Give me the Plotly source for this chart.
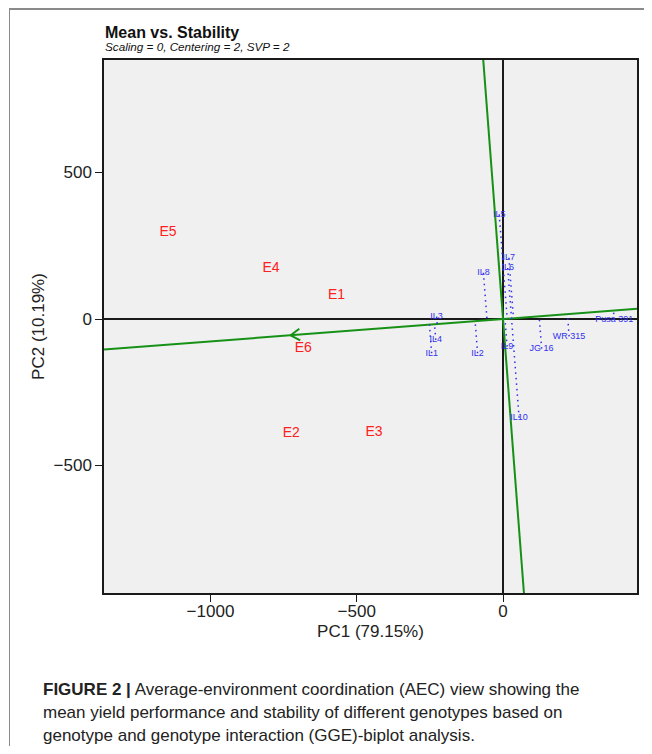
import math
import plotly.graph_objects as go

# ---------------- data ----------------
env_names = ["E1", "E2", "E3", "E4", "E5", "E6"]
env_pc1 = [-569, -724, -441, -793, -1145, -683]
env_pc2 = [82, -392, -386, 171, 294, -102]

gen_names = ["IL1", "IL2", "IL3", "IL4", "IL5", "IL6", "IL7", "IL8", "IL9", "IL10",
             "JG 16", "WR 315", "Pusa 391"]
gen_pc1 = [-244, -87, -227, -230, -13, 16, 20, -67, 14, 55, 132, 226, 380]
gen_pc2 = [-117, -117, 8, -71, 357, 174, 209, 158, -94, -337, -101, -59, -2]

x_ticks = [-1000, -500, 0]
y_ticks = [-500, 0, 500]
x_range = [-1364, 458]
y_range = [-935, 884]

title = "Mean vs. Stability"
subtitle = "Scaling = 0, Centering = 2, SVP = 2"
x_title = "PC1 (79.15%)"
y_title = "PC2 (10.19%)"
caption_lines = [
    "<b>FIGURE 2 |</b> Average-environment coordination (AEC) view showing the",
    "mean yield performance and stability of different genotypes based on",
    "genotype and genotype interaction (GGE)-biplot analysis.",
]

# ---------------- geometry ----------------
# page body has an 8px margin, so the figure is drawn from (8, 8) of the window
OFF = 8
W, H = 652 - 2 * OFF, 754 - 2 * OFF
L, R, T, B = 104 - OFF, 652 - OFF - 637, 60 - OFF, H - (593 - OFF)
PW, PH = W - L - R, H - T - B


def px_x(p):
    """window pixel x -> paper coordinate"""
    return (p - OFF - L) / PW


def px_y(p):
    """window pixel y -> paper coordinate"""
    return (H - B - (p - OFF)) / PH


GREEN = "#169116"
BLUE = "#3030ee"
RED = "#ff2020"
FONT = "Liberation Sans, Arial, sans-serif"

mx = sum(env_pc1) / len(env_pc1)
my = sum(env_pc2) / len(env_pc2)
mlen = math.hypot(mx, my)
ux, uy = mx / mlen, my / mlen

fig = go.Figure()

# AEC abscissa (through origin and average environment)
s_ab = my / mx
xs_ab = [x_range[0] - 50, x_range[1] + 50]
fig.add_trace(go.Scatter(x=xs_ab, y=[s_ab * v for v in xs_ab], mode="lines",
                         line=dict(color=GREEN, width=2), hoverinfo="skip", showlegend=False))
# AEC ordinate (perpendicular)
s_or = -mx / my
ys_or = [y_range[0] - 50, y_range[1] + 50]
fig.add_trace(go.Scatter(x=[v / s_or for v in ys_or], y=ys_or, mode="lines",
                         line=dict(color=GREEN, width=2), hoverinfo="skip", showlegend=False))

# arrow chevron at average environment
ang = math.radians(33)
alen = 37
wings_x, wings_y = [], []
for sgn in (1, -1):
    ca, sa = math.cos(sgn * ang), math.sin(sgn * ang)
    rx = ux * ca - uy * sa
    ry = ux * sa + uy * ca
    wings_x += [mx - alen * rx, mx, None]
    wings_y += [my - alen * ry, my, None]
fig.add_trace(go.Scatter(x=wings_x, y=wings_y, mode="lines",
                         line=dict(color=GREEN, width=2), hoverinfo="skip", showlegend=False))

# projections of genotypes onto AEC abscissa
dx, dy = [], []
for gx, gy in zip(gen_pc1, gen_pc2):
    t = gx * ux + gy * uy
    dx += [gx, t * ux, None]
    dy += [gy, t * uy, None]
fig.add_trace(go.Scatter(x=dx, y=dy, mode="lines",
                         line=dict(color=BLUE, width=1.5, dash="1.5px,4px"),
                         hoverinfo="skip", showlegend=False))

# genotype labels
fig.add_trace(go.Scatter(x=gen_pc1, y=gen_pc2, mode="text", text=gen_names,
                         textposition="middle center",
                         textfont=dict(family=FONT, size=9, color=BLUE),
                         hoverinfo="skip", showlegend=False))
# environment labels
fig.add_trace(go.Scatter(x=env_pc1, y=env_pc2, mode="text", text=env_names,
                         textposition="middle center",
                         textfont=dict(family=FONT, size=14, color=RED),
                         hoverinfo="skip", showlegend=False))

axis_common = dict(
    showgrid=False, zeroline=True, zerolinecolor="#1a1a1a", zerolinewidth=1.5,
    showline=True, mirror=True, linecolor="#1a1a1a", linewidth=1.5,
    ticks="outside", ticklen=7, tickwidth=1.3, tickcolor="#1a1a1a",
    tickfont=dict(family=FONT, size=17, color="#222"),
)
fig.update_xaxes(range=x_range, tickvals=x_ticks, ticklabelstandoff=-5, **axis_common,
                 title=dict(text=x_title, font=dict(family=FONT, size=17, color="#222"), standoff=5))
fig.update_yaxes(range=y_range, tickvals=y_ticks, **axis_common,
                 title=dict(text=y_title, font=dict(family=FONT, size=17, color="#222"), standoff=5))

annotations = [
    dict(text="<b>" + title + "</b>", x=px_x(103), y=px_y(32), xref="paper", yref="paper",
         xanchor="left", yanchor="middle", showarrow=False,
         font=dict(family=FONT, size=16, color="#111")),
    dict(text="<i>" + subtitle + "</i>", x=px_x(103), y=px_y(46.5), xref="paper", yref="paper",
         xanchor="left", yanchor="middle", showarrow=False,
         font=dict(family=FONT, size=11.7, color="#111")),
]
for i, line in enumerate(caption_lines):
    annotations.append(dict(text=line, x=px_x(41), y=px_y(689 + 23 * i), xref="paper", yref="paper",
                            xanchor="left", yanchor="middle", showarrow=False, align="left",
                            font=dict(family=FONT, size=17, color="#222")))

shapes = [
    dict(type="line", xref="paper", yref="paper", x0=px_x(9), x1=px_x(660), y0=px_y(9), y1=px_y(9),
         line=dict(color="#8a8a8a", width=2)),
    dict(type="line", xref="paper", yref="paper", x0=px_x(9.5), x1=px_x(9.5), y0=px_y(9), y1=px_y(760),
         line=dict(color="#8a8a8a", width=1)),
]

fig.update_layout(
    width=W, height=H, margin=dict(l=L, r=R, t=T, b=B, autoexpand=False),
    paper_bgcolor="white", plot_bgcolor="#f0f0f0",
    annotations=annotations, shapes=shapes, showlegend=False,
)

fig.write_html("out.html")
